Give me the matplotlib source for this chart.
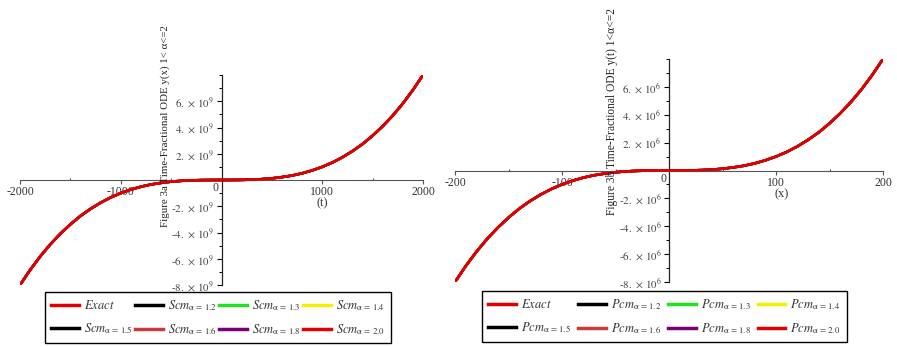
import matplotlib
matplotlib.use("Agg")
from matplotlib import pyplot as plt
from matplotlib.ticker import FuncFormatter, MultipleLocator, FixedLocator

plt.rcParams['font.family'] = ['Liberation Serif', 'DejaVu Serif']
plt.rcParams['mathtext.fontset'] = 'stix'
plt.rcParams['axes.unicode_minus'] = False

# values (every approximation lies on the exact curve)
t_a = [-2000, -1900, -1800, -1700, -1600, -1500, -1400, -1300, -1200, -1100,
       -1000, -900, -800, -700, -600, -500, -400, -300, -200, -100, 0,
       100, 200, 300, 400, 500, 600, 700, 800, 900, 1000,
       1100, 1200, 1300, 1400, 1500, 1600, 1700, 1800, 1900, 2000]
y_a_e9 = [-8.0, -6.86, -5.83, -4.91, -4.10, -3.38, -2.74, -2.20, -1.73, -1.33,
          -1.0, -0.73, -0.51, -0.34, -0.22, -0.125, -0.064, -0.027, -0.008, -0.001, 0.0,
          0.001, 0.008, 0.027, 0.064, 0.125, 0.22, 0.34, 0.51, 0.73, 1.0,
          1.33, 1.73, 2.20, 2.74, 3.38, 4.10, 4.91, 5.83, 6.86, 8.0]

x_b = [-200, -190, -180, -170, -160, -150, -140, -130, -120, -110,
       -100, -90, -80, -70, -60, -50, -40, -30, -20, -10, 0,
       10, 20, 30, 40, 50, 60, 70, 80, 90, 100,
       110, 120, 130, 140, 150, 160, 170, 180, 190, 200]
y_b_e6 = [-8.0, -6.86, -5.83, -4.91, -4.10, -3.38, -2.74, -2.20, -1.73, -1.33,
          -1.0, -0.73, -0.51, -0.34, -0.22, -0.125, -0.064, -0.027, -0.008, -0.001, 0.0,
          0.001, 0.008, 0.027, 0.064, 0.125, 0.22, 0.34, 0.51, 0.73, 1.0,
          1.33, 1.73, 2.20, 2.74, 3.38, 4.10, 4.91, 5.83, 6.86, 8.0]

alphas = ['1.2', '1.3', '1.4', '1.5', '1.6', '1.8', '2.0']
alpha_colors = ['#000000', '#22e022', '#f2f200', '#000000', '#c83c3c', '#7a007a', '#e00000']
exact_color = '#e00000'

y_ticks_a = [-8, -6, -4, -2, 2, 4, 6]
y_ticks_b = [-8, -6, -4, -2, 2, 4, 6]


def sci_label(v, scale, exp):
    n = int(round(v / scale))
    sign = '-' if n < 0 else ''
    return sign + r'$%d.\,\times\,10^{%d}$' % (abs(n), exp)


def style_axes(ax, xlim, ylim, xmajor, xminor, yticks, scale, exp):
    ax.set_xlim(*xlim)
    ax.set_ylim(*ylim)
    ax.patch.set_alpha(0)
    for s in ['top', 'right']:
        ax.spines[s].set_visible(False)
    ax.spines['left'].set_position(('data', 0))
    ax.spines['bottom'].set_position(('data', 0))
    ax.spines['left'].set_color('#222222')
    ax.spines['bottom'].set_color('#555555')
    ax.spines['left'].set_linewidth(0.9)
    ax.spines['bottom'].set_linewidth(0.8)
    ax.xaxis.set_major_locator(FixedLocator(xmajor))
    ax.xaxis.set_minor_locator(FixedLocator(xminor))
    ax.yaxis.set_major_locator(FixedLocator([v * scale for v in yticks]))
    ax.yaxis.set_minor_locator(MultipleLocator(scale))
    ax.yaxis.set_major_formatter(FuncFormatter(lambda v, p: sci_label(v, scale, exp)))
    ax.tick_params(axis='x', which='major', direction='out', length=3, width=0.8,
                   color='#555555', labelsize=8.5, pad=1.5, labelcolor='#333333')
    ax.tick_params(axis='x', which='minor', direction='in', length=1.5, width=0.8,
                   color='#555555')
    ax.tick_params(axis='y', which='major', direction='out', length=3.5, width=0.8,
                   labelsize=7.8, pad=2, labelcolor='#444444')
    ax.tick_params(axis='y', which='minor', direction='out', length=2, width=0.7)
    ax.annotate('0', xy=(0, 0), xytext=(-6, -8), textcoords='offset pixels',
                ha='center', va='center', fontsize=8.5, color='#333333')


def add_curves(ax, xs, ys, scale):
    yv = [v * scale for v in ys]
    lines = {}
    for a, c in zip(alphas, alpha_colors):
        lines[a], = ax.plot(xs, yv, color=c, lw=1.8, zorder=2)
    lines['exact'], = ax.plot(xs, yv, color=exact_color, lw=1.8, zorder=3)
    return lines


def add_legend(fig, lines, name, anchor, colspace):
    labels = {'exact': r'$\mathit{Exact}$'}
    for a in alphas:
        labels[a] = r'$\mathit{%s}_{\mathrm{\alpha\,=\,%s}}$' % (name, a)
    # matplotlib fills legend columns first, so reorder to get rows
    order = ['exact', '1.5', '1.2', '1.6', '1.3', '1.8', '1.4', '2.0']
    leg = fig.legend([lines[k] for k in order], [labels[k] for k in order],
                     loc='lower left', bbox_to_anchor=anchor, ncol=4,
                     fontsize=9, handlelength=2.2, handletextpad=0.4,
                     columnspacing=colspace, borderaxespad=0, labelspacing=0.7,
                     borderpad=0.5, fancybox=False, framealpha=1,
                     edgecolor='black')
    leg.get_frame().set_linewidth(1.0)
    for h in leg.legend_handles:
        h.set_linewidth(2.5)
    for t in leg.get_texts():
        t.set_color('#333333')


W, H = 897, 347
fig = plt.figure(figsize=(W / 100, H / 100), dpi=100)

ax1 = fig.add_axes([20 / W, (H - 285) / H, 403 / W, 210 / H])
style_axes(ax1, (-2000, 2000), (-8e9, 8e9), [-2000, -1000, 1000, 2000],
           [-1500, -500, 500, 1500], y_ticks_a, 1e9, 9)
lines_a = add_curves(ax1, t_a, y_a_e9, 1e9)
ax1.annotate('(t)', xy=(1000, 0), xytext=(0, -23), textcoords='offset pixels',
             ha='center', va='center', fontsize=9, color='#333333')
fig.text(165 / W, (H - 126) / H, 'Figure 3a Time-Fractional ODE y(x) 1< α<=2',
         rotation=90, ha='center', va='center', fontsize=7.8, color='#222222')

ax2 = fig.add_axes([455 / W, (H - 282) / H, 428 / W, 223 / H])
style_axes(ax2, (-200, 200), (-8e6, 8e6), [-200, -100, 100, 200],
           [-150, -50, 50, 150], y_ticks_b, 1e6, 6)
lines_b = add_curves(ax2, x_b, y_b_e6, 1e6)
ax2.annotate('(x)', xy=(100, 0), xytext=(6, -24), textcoords='offset pixels',
             ha='center', va='center', fontsize=9, color='#333333')
fig.text(612 / W, (H - 112) / H, 'Figure 3b Time-Fractional ODE y(t) 1<α<=2',
         rotation=90, ha='center', va='center', fontsize=8.3, color='#222222')

add_legend(fig, lines_a, 'Scm', (45 / W, 4 / H), 0.22)
add_legend(fig, lines_b, 'Pcm', (482 / W, 5 / H), 0.58)

fig.savefig('out.png', dpi=100)
